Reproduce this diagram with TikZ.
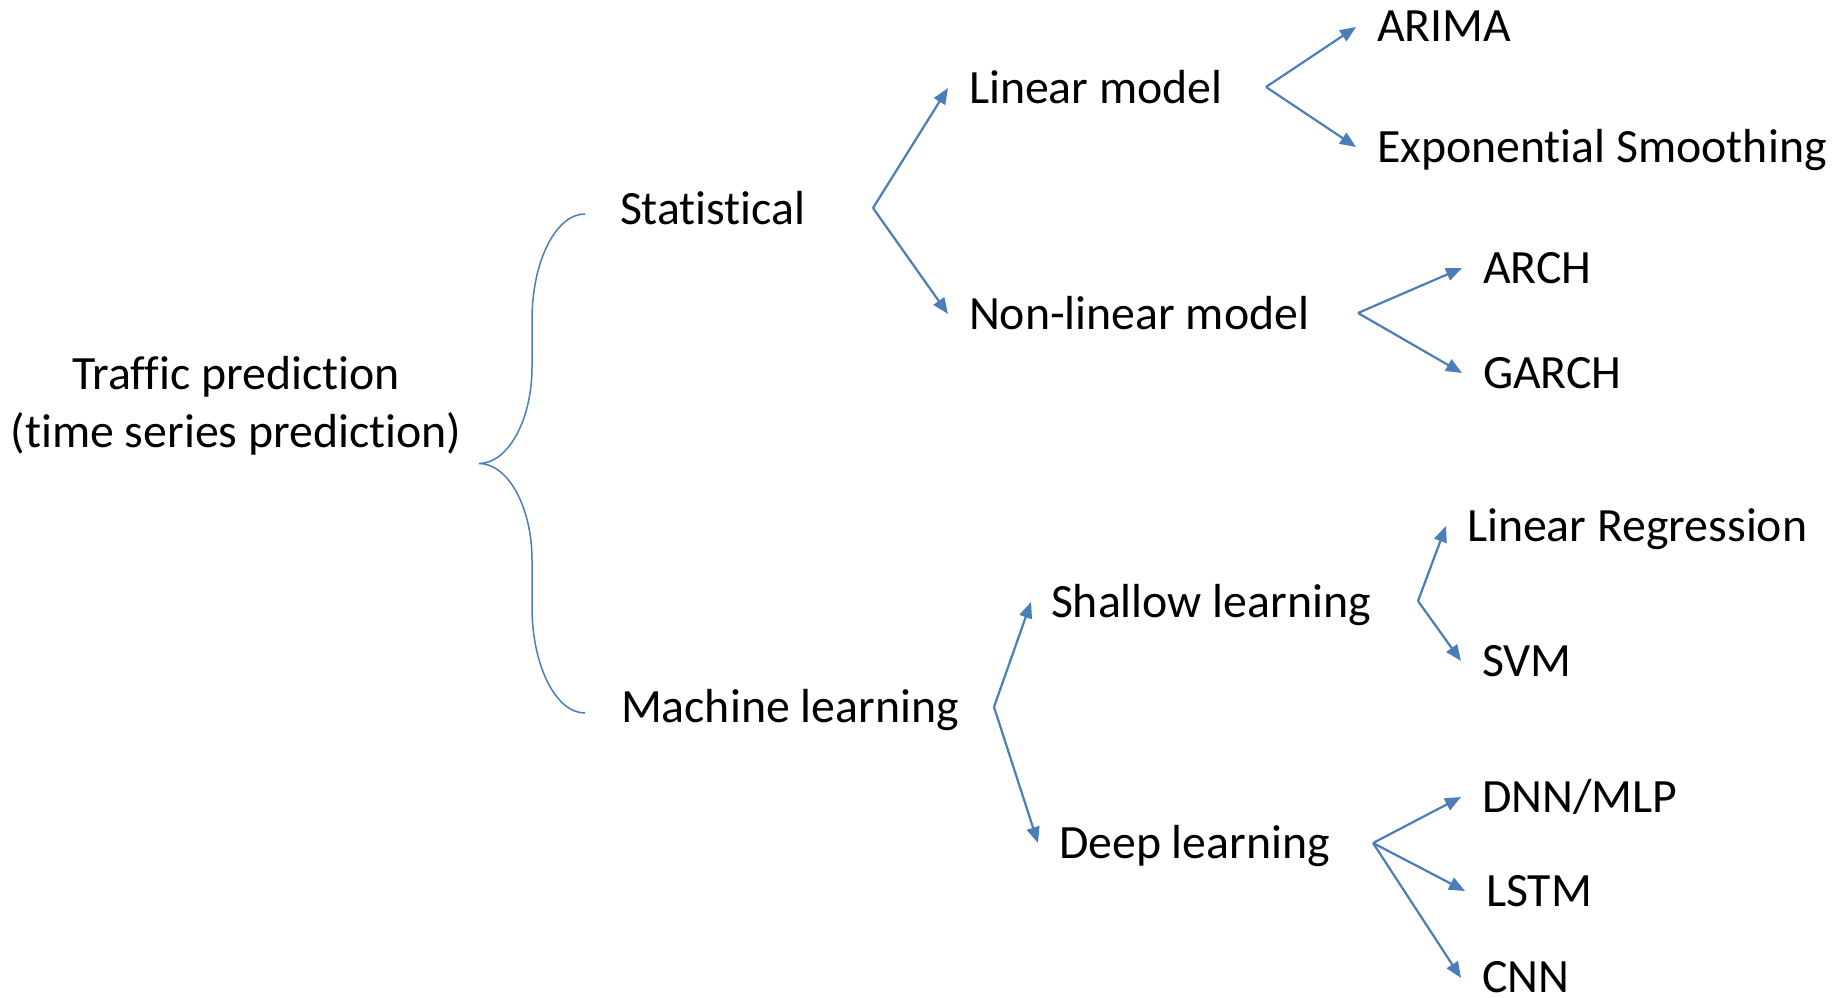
\documentclass[tikz,border=0pt]{standalone}
\usepackage{fontspec}
\setmainfont{Carlito}[Ligatures={NoCommon,NoContextual}]
\usetikzlibrary{arrows.meta}
\definecolor{linkblue}{RGB}{74,126,187}
\begin{document}
\begin{tikzpicture}[x=1pt,y=-1pt,
  lbl/.style={inner sep=0pt, outer sep=0pt, anchor=base west, font=\fontsize{47.8}{58}\selectfont},
  arr/.style={draw=linkblue, line width=2.2pt, line join=miter,
    -{Triangle[length=16pt,width=13pt]}},
  brace/.style={draw=linkblue, line width=1.5pt}]
\useasboundingbox[fill=white] (0,0) rectangle (1845,998);

% root
\node[inner sep=0pt, align=center, font=\fontsize{47.8}{58}\selectfont] (root) at (236,406)
  {Traffic prediction\\(time series prediction)};

% first level
\node[lbl] (stat) at (620,224) {Statistical};
\node[lbl] (ml)   at (621,722) {Machine learning};

% second level
\node[lbl] (lin)  at (969,103)  {Linear model};
\node[lbl] (non)  at (969,329)  {Non-linear model};
\node[lbl] (sha)  at (1051,617) {Shallow learning};
\node[lbl] (deep) at (1059,858) {Deep learning};

% leaves
\node[lbl] (arima) at (1377,42)  {ARIMA};
\node[lbl] (es)    at (1377,162) {Exponential Smoothing};
\node[lbl] (arch)  at (1483,283) {ARCH};
\node[lbl] (garch) at (1483,388) {GARCH};
\node[lbl] (lr)    at (1467,541) {Linear Regression};
\node[lbl] (svm)   at (1482,676) {SVM};
\node[lbl] (dnn)   at (1482,812) {DNN/MLP};
\node[lbl] (lstm)  at (1486,906) {LSTM};
\node[lbl] (cnn)   at (1482,992) {CNN};

% brace joining the root to both families
\coordinate (btop) at (585,214);
\coordinate (btip) at (479,463.5);
\coordinate (bbot) at (585,713);
\draw[brace] (btop) .. controls (556,214) and (532,261) .. (532,320)
  -- (532,367) .. controls (532,420) and (508,463.5) .. (btip)
  .. controls (508,463.5) and (532,507) .. (532,560)
  -- (532,607) .. controls (532,666) and (556,713) .. (bbot);

% fork points
\coordinate (fstat) at (873,208);
\coordinate (flin)  at (1266,87);
\coordinate (fnon)  at (1358,313);
\coordinate (fml)   at (994,707);
\coordinate (fsha)  at (1418,601);
\coordinate (fdeep) at (1373,843);

% connectors
\draw[arr] (fstat) -- ([shift={(-21,-15)}]lin.base west);
\draw[arr] (fstat) -- ([shift={(-21,-15)}]non.base west);
\draw[arr] (flin)  -- ([shift={(-21,-15)}]arima.base west);
\draw[arr] (flin)  -- ([shift={(-21,-15)}]es.base west);
\draw[arr] (fnon)  -- ([shift={(-21,-15)}]arch.base west);
\draw[arr] (fnon)  -- ([shift={(-21,-15)}]garch.base west);
\draw[arr] (fml)   -- ([shift={(-20,-15)}]sha.base west);
\draw[arr] (fml)   -- ([shift={(-21,-15)}]deep.base west);
\draw[arr] (fsha)  -- ([shift={(-21,-15)}]lr.base west);
\draw[arr] (fsha)  -- ([shift={(-21,-15)}]svm.base west);
\draw[arr] (fdeep) -- ([shift={(-21,-15)}]dnn.base west);
\draw[arr] (fdeep) -- ([shift={(-21,-15)}]lstm.base west);
\draw[arr] (fdeep) -- ([shift={(-21,-14)}]cnn.base west);
\end{tikzpicture}
\end{document}
